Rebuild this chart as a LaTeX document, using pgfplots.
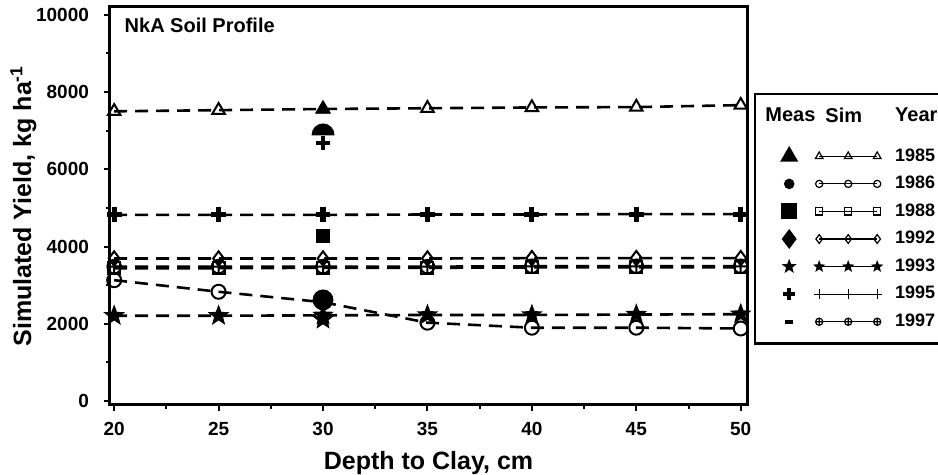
\documentclass[border=0pt]{standalone}
\usepackage{fontspec}
\setmainfont{Liberation Sans}
\usepackage{pgfplots}
\usepackage{pgfplotstable}
\pgfplotsset{compat=1.18}
\usetikzlibrary{plotmarks}

% five-pointed star and dome marks
\pgfdeclareplotmark{pstar}{%
  \pgfpathmoveto{\pgfpointpolar{90}{\pgfplotmarksize}}%
  \pgfpathlineto{\pgfpointpolar{126}{0.42\pgfplotmarksize}}%
  \pgfpathlineto{\pgfpointpolar{162}{\pgfplotmarksize}}%
  \pgfpathlineto{\pgfpointpolar{198}{0.42\pgfplotmarksize}}%
  \pgfpathlineto{\pgfpointpolar{234}{\pgfplotmarksize}}%
  \pgfpathlineto{\pgfpointpolar{270}{0.42\pgfplotmarksize}}%
  \pgfpathlineto{\pgfpointpolar{306}{\pgfplotmarksize}}%
  \pgfpathlineto{\pgfpointpolar{342}{0.42\pgfplotmarksize}}%
  \pgfpathlineto{\pgfpointpolar{18}{\pgfplotmarksize}}%
  \pgfpathlineto{\pgfpointpolar{54}{0.42\pgfplotmarksize}}%
  \pgfpathclose\pgfusepathqfillstroke}
\pgfdeclareplotmark{dome}{%
  \pgfpathmoveto{\pgfpoint{-\pgfplotmarksize}{0pt}}%
  \pgfpatharc{180}{0}{\pgfplotmarksize}%
  \pgfpathclose\pgfusepathqfillstroke}

\pgfplotstableread{
x   y85  y86  y88  y92  y93  y95  y97
20  7500 3130 3440 3690 2210 4820 3480
25  7530 2830 3440 3690 2210 4820 3480
30  7560 2560 3450 3690 2220 4820 3480
35  7580 2030 3450 3690 2230 4830 3480
40  7600 1900 3460 3700 2230 4830 3490
45  7610 1900 3460 3700 2240 4840 3490
50  7660 1880 3460 3700 2250 4840 3490
}\simdata

\pgfplotsset{
  simline/.style={black,line width=1.3pt,dash pattern=on 6.5pt off 4pt,forget plot,
    mark options={solid,line width=1pt,fill=white}},
  meas/.style={black,only marks,forget plot},
  legrow/.style 2 args={legend image code/.code={%
    \path[draw=none] (-13pt,-5pt) rectangle (51pt,5pt);
    \draw[black,#1] plot coordinates {(0pt,0pt)};
    \draw[black,solid,line width=0.6pt,mark size=1.8pt,mark options={solid,fill=white},#2]
      plot coordinates {(15pt,0pt) (29.5pt,0pt) (44pt,0pt)};
  }},
}

\begin{document}
\begin{tikzpicture}
\begin{axis}[
  width=318.5pt,height=199pt,scale only axis,
  xmin=19.8,xmax=50.3,ymin=-100,ymax=10200,
  xtick={20,25,...,50},ytick={0,2000,...,10000},
  scaled y ticks=false,
  minor x tick num=1,minor y tick num=1,
  tick pos=left,tick align=outside,
  major tick length=3pt,minor tick length=2pt,
  every tick/.style={black,line width=1pt},
  axis line style={line width=1.5pt},
  clip=false,
  /pgf/number format/1000 sep={},
  /pgf/number format/assume math mode=true,
  tick label style={font=\bfseries\fontsize{9.5}{11}\selectfont},
  yticklabel style={xshift=-4pt},
  xticklabel style={yshift=-2pt},
  xlabel={Depth to Clay, cm},
  ylabel={Simulated Yield, kg ha\textsuperscript{-1}},
  label style={font=\bfseries\fontsize{12.5}{14}\selectfont},
  xlabel style={yshift=-1pt},
  ylabel style={yshift=-7pt},
  legend cell align=left,
  legend style={at={(1.011,0.784)},anchor=north west,draw=black,line width=1.2pt,
    font=\bfseries\fontsize{9}{11}\selectfont,row sep=2pt,
    inner xsep=4pt,inner ysep=5pt},
]
% simulated
\addplot[simline,mark=triangle,mark size=3.6pt] table[x=x,y=y85] {\simdata};
\addplot[simline,mark=o,mark size=3.5pt] table[x=x,y=y86] {\simdata};
\addplot[simline,mark=square,mark size=3pt] table[x=x,y=y88] {\simdata};
\addplot[simline,mark=oplus,mark size=3.4pt] table[x=x,y=y97] {\simdata};
\addplot[simline,mark=diamond,mark size=3.6pt] table[x=x,y=y92] {\simdata};
\addplot[simline,mark=pstar,mark size=3.8pt,mark options={solid,fill=black}] table[x=x,y=y93] {\simdata};
\addplot[simline,mark=+,mark size=3.7pt,mark options={solid,line width=2.6pt}] table[x=x,y=y95] {\simdata};
% measured
\addplot[meas,mark=triangle*,mark size=4pt,fill=black] coordinates {(30,7560)};
\addplot[meas,mark=dome,mark size=5.5pt,fill=black] coordinates {(30,6890)};
\addplot[meas,mark=+,mark size=3.3pt,mark options={line width=2.4pt}] coordinates {(30,6680)};
\addplot[meas,mark=square*,mark size=3.2pt,fill=black] coordinates {(30,4270)};
\addplot[meas,mark=*,mark size=5pt,fill=black] coordinates {(30,2620)};
\addplot[meas,mark=pstar,mark size=5pt,fill=black] coordinates {(30,2110)};

\node[anchor=west,font=\bfseries\fontsize{10}{12}\selectfont] at (rel axis cs:0.012,0.955) {NkA Soil Profile};
\coordinate (bl) at (rel axis cs:0,0);
\coordinate (tr) at (rel axis cs:1,1);

% legend
\addlegendimage{legend image code/.code={%
  \path[draw=none] (-13pt,-9pt) rectangle (51pt,9pt);
  \node[draw=none,anchor=west,inner sep=0pt,font=\bfseries\fontsize{10}{12}\selectfont] at (-12.5pt,3pt) {Meas};
  \node[draw=none,anchor=west,inner sep=0pt,font=\bfseries\fontsize{10}{12}\selectfont] at (17.5pt,3pt) {Sim};}}
\addlegendentry[yshift=3pt]{\fontsize{10}{12}\selectfont Year}
\addlegendimage{legrow={mark=triangle*,mark size=4pt,fill=black}{mark=triangle,mark size=2.2pt}}
\addlegendentry{1985}
\addlegendimage{legrow={mark=*,mark size=2pt,fill=black}{mark=o}}
\addlegendentry{1986}
\addlegendimage{legrow={mark=square*,mark size=3.4pt,fill=black}{mark=square}}
\addlegendentry{1988}
\addlegendimage{legrow={mark=diamond*,mark size=4pt,fill=black}{mark=diamond,mark size=2.2pt}}
\addlegendentry{1992}
\addlegendimage{legrow={mark=pstar,mark size=2.2pt,fill=black}{mark=pstar,mark size=2.4pt,mark options={solid,fill=black}}}
\addlegendentry{1993}
\addlegendimage{legrow={mark=+,mark size=3pt,mark options={line width=2pt}}{mark=+,mark size=2.4pt}}
\addlegendentry{1995}
\addlegendimage{legrow={mark=-,mark size=2pt,mark options={line width=2pt}}{mark=oplus}}
\addlegendentry{1997}
\end{axis}
\pgfresetboundingbox
\path[use as bounding box] ([xshift=-55pt,yshift=-35pt]bl) rectangle ([xshift=95.5pt,yshift=3.5pt]tr);
\end{tikzpicture}
\end{document}
